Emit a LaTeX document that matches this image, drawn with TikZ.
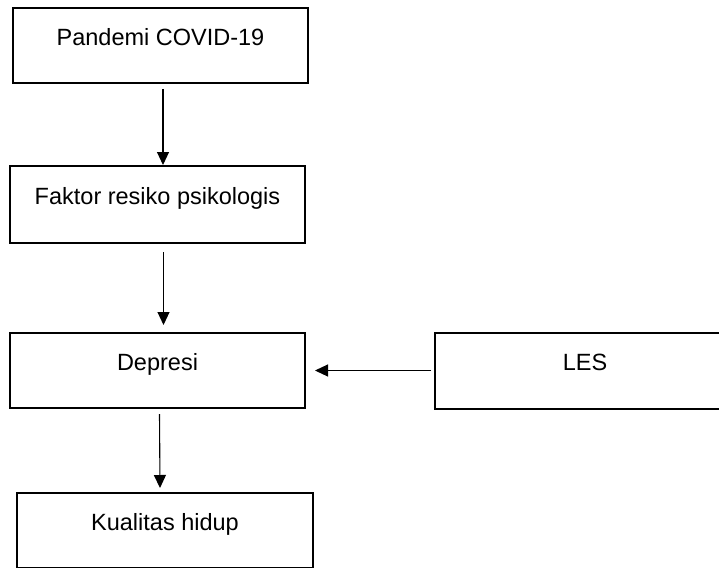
\documentclass[tikz,border=0pt]{standalone}
\usepackage{fontspec}
\setmainfont{Liberation Sans}
\usetikzlibrary{arrows.meta}
\begin{document}
\begin{tikzpicture}[
x=1pt,y=-1pt,
box/.style={%
draw,
line width=2pt,
inner sep=0pt,
font=\fontsize{23.5}{27}\selectfont
},
arr/.style={%
line width=1.1pt,
-{Triangle[length=13pt,width=12pt]}
}
]
\useasboundingbox (0,0) rectangle (719,567);
\clip (0,0) rectangle (719,567);
%% Main chain
\node[box,minimum width=295pt,text height=37.5pt,text depth=37.5pt]at(160.5,45.5)(covid){Pandemi COVID-19};
\node[box,minimum width=295pt,text height=38.5pt,text depth=38.5pt]at(157.5,204.5)(faktor){Faktor resiko psikologis};
\node[box,minimum width=295pt,text height=37.5pt,text depth=37.5pt]at(157.5,370.5)(depresi){Depresi};
\node[box,minimum width=296pt,text height=37.5pt,text depth=37.5pt]at(165,530.5)(kualitas){Kualitas hidup};
%% Side factor
\node[box,minimum width=300pt,text height=38pt,text depth=38pt]at(585,370.5)(les){LES};
%% Arrows
\draw[arr]([xshift=2.5pt,yshift=-5pt]covid.south)--([xshift=5.5pt]faktor.north);
\draw[arr]([xshift=6pt,yshift=-8pt]faktor.south)--([xshift=6pt,yshift=7pt]depresi.north);
\draw[arr]([xshift=-3pt]les.west)--([xshift=9pt]depresi.east);
\draw[arr]([xshift=2pt,yshift=-5pt]depresi.south)--([xshift=-5pt,yshift=4pt]kualitas.north);
\end{tikzpicture}
\end{document}
